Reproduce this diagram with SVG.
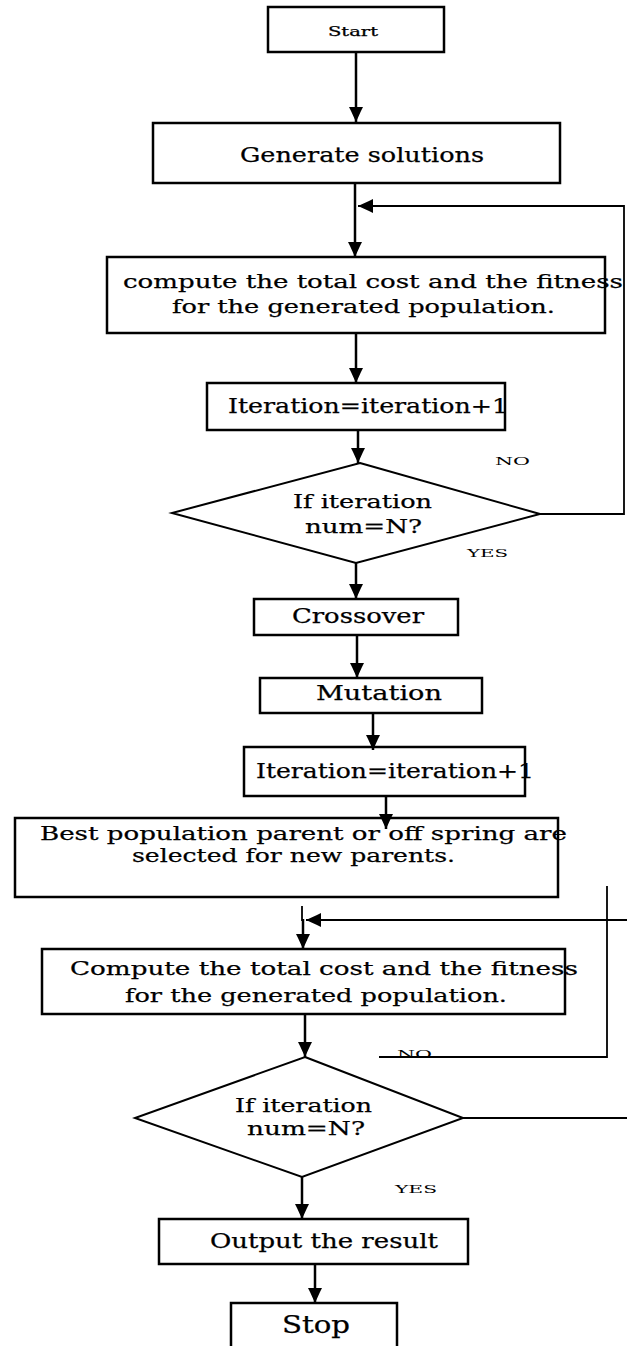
<svg xmlns="http://www.w3.org/2000/svg" width="627" height="1346" viewBox="0 0 627 1346">
<style>
.box{fill:#fff;stroke:#000;stroke-width:2.5}
.dia{fill:#fff;stroke:#000;stroke-width:2}
.ln{fill:none;stroke:#000;stroke-width:2.5}
.thin{fill:none;stroke:#000;stroke-width:1.8}
text{font-family:"DejaVu Serif","Liberation Serif",serif;fill:#000;stroke:#000;stroke-width:0.25}
.t{font-size:19px}
.s{font-size:11px;stroke-width:0}
</style>
<defs>
<marker id="ah" markerUnits="userSpaceOnUse" markerWidth="18" markerHeight="18" viewBox="-16 -9 18 18" refX="0" refY="0" orient="auto">
<path d="M-15,-7 L-15,7 L-11,5 L0,0 L-11,-5 Z" fill="#000" stroke="none"/>
</marker>
</defs>
<rect width="627" height="1346" fill="#fff"/>

<g id="start"><rect class="box" x="268" y="7" width="176" height="45"/><text x="328" y="36" font-size="12" stroke-width="0" textLength="50" lengthAdjust="spacingAndGlyphs">Start</text></g>
<g id="generate"><rect class="box" x="153" y="123" width="407" height="60"/><text x="240" y="162" font-size="21" textLength="244" lengthAdjust="spacingAndGlyphs">Generate solutions</text></g>
<g id="compute1"><rect class="box" x="107" y="257" width="498" height="76"/><text class="t" x="123" y="288" textLength="500" lengthAdjust="spacingAndGlyphs">compute the total cost and the fitness</text><text class="t" x="172" y="313" textLength="383" lengthAdjust="spacingAndGlyphs">for the generated population.</text></g>
<g id="iter1"><rect class="box" x="207" y="383" width="298" height="47"/><text x="228" y="413" font-size="20" textLength="280" lengthAdjust="spacingAndGlyphs">Iteration=iteration+1</text></g>
<g id="dec1"><polygon class="dia" points="360,463 540,514 356,563 172,513"/><text class="t" x="293" y="508" textLength="139" lengthAdjust="spacingAndGlyphs">If iteration</text><text class="t" x="305" y="533" textLength="117" lengthAdjust="spacingAndGlyphs">num=N?</text></g>
<g id="lbl1"><text class="s" x="495" y="465" textLength="35" lengthAdjust="spacingAndGlyphs">NO</text><text class="s" x="467" y="557" textLength="41" lengthAdjust="spacingAndGlyphs">YES</text></g>
<g id="crossover"><rect class="box" x="254" y="599" width="204" height="36"/><text x="292" y="623" font-size="20" textLength="132" lengthAdjust="spacingAndGlyphs">Crossover</text></g>
<g id="mutation"><rect class="box" x="260" y="678" width="222" height="35"/><text x="316" y="700" font-size="20" textLength="126" lengthAdjust="spacingAndGlyphs">Mutation</text></g>
<g id="iter2"><rect class="box" x="244" y="747" width="281" height="49"/><text x="256" y="778" font-size="20" textLength="278" lengthAdjust="spacingAndGlyphs">Iteration=iteration+1</text></g>
<g id="best"><rect class="box" x="15" y="818" width="543" height="79"/><text class="t" x="40" y="840" textLength="527" lengthAdjust="spacingAndGlyphs">Best population parent or off spring are</text><text class="t" x="132" y="862" textLength="323" lengthAdjust="spacingAndGlyphs">selected for new parents.</text></g>
<g id="compute2"><rect class="box" x="42" y="949" width="523" height="65"/><text class="t" x="70" y="975" textLength="508" lengthAdjust="spacingAndGlyphs">Compute the total cost and the fitness</text><text class="t" x="125" y="1002" textLength="382" lengthAdjust="spacingAndGlyphs">for the generated population.</text></g>
<g id="dec2"><polygon class="dia" points="305,1057 463,1118 302,1177 135,1118"/><text class="t" x="235" y="1112" textLength="137" lengthAdjust="spacingAndGlyphs">If iteration</text><text class="t" x="247" y="1135" textLength="118" lengthAdjust="spacingAndGlyphs">num=N?</text></g>
<g id="lbl2"><text class="s" x="397" y="1058" textLength="35" lengthAdjust="spacingAndGlyphs">NO</text><text class="s" x="395" y="1193" textLength="42" lengthAdjust="spacingAndGlyphs">YES</text></g>
<g id="output"><rect class="box" x="159" y="1219" width="309" height="45"/><text x="210" y="1248" font-size="20" textLength="228" lengthAdjust="spacingAndGlyphs">Output the result</text></g>
<g id="stop"><rect class="box" x="231" y="1303" width="166" height="60"/><text x="282" y="1333" font-size="24" textLength="68" lengthAdjust="spacingAndGlyphs">Stop</text></g>

<g id="connectors">
<path class="ln" d="M356,52 V122" marker-end="url(#ah)"/>
<path class="ln" d="M355,183 V257" marker-end="url(#ah)"/>
<path class="thin" d="M540,514 H624 V206 H358" marker-end="url(#ah)"/>
<path class="ln" d="M356,333 V383" marker-end="url(#ah)"/>
<path class="ln" d="M358,430 V463" marker-end="url(#ah)"/>
<path class="ln" d="M356,563 V599" marker-end="url(#ah)"/>
<path class="ln" d="M357,635 V678" marker-end="url(#ah)"/>
<path class="ln" d="M373,713 V750" marker-end="url(#ah)"/>
<path class="ln" d="M386,796 V829" marker-end="url(#ah)"/>
<path class="thin" d="M302,906 V921"/>
<path class="ln" d="M303,919 V949" marker-end="url(#ah)"/>
<path class="thin" d="M627,920 H306" marker-end="url(#ah)"/>
<path class="thin" d="M607,886 V1057 H379"/>
<path class="ln" d="M305,1014 V1057" marker-end="url(#ah)"/>
<path class="thin" d="M463,1118 H627"/>
<path class="ln" d="M302,1177 V1219" marker-end="url(#ah)"/>
<path class="ln" d="M315,1264 V1303" marker-end="url(#ah)"/>
</g>
</svg>
